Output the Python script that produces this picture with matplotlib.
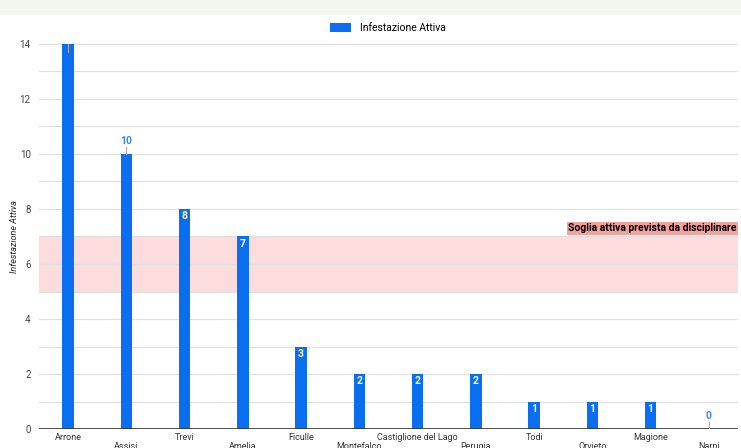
import matplotlib.pyplot as plt
from matplotlib.patches import Rectangle

plt.rcParams['font.family'] = ['Roboto', 'DejaVu Sans']

comuni = ['Arrone', 'Assisi', 'Trevi', 'Amelia', 'Ficulle', 'Montefalco',
          'Castiglione del Lago', 'Perugia', 'Todi', 'Orvieto', 'Magione', 'Narni']
infestazione = [14, 10, 8, 7, 3, 2, 2, 2, 1, 1, 1, 0]
soglia_min = 5
soglia_max = 7
y_ticks = [0, 2, 4, 6, 8, 10, 12, 14]

blue = '#0a6ef0'

fig = plt.figure(figsize=(7.41, 4.48), dpi=100)
# light green strip at the very top
fig.patches.append(Rectangle((0, 1 - 14 / 448), 1, 14 / 448, transform=fig.transFigure,
                             color='#f1f7ee', zorder=0))

ax = fig.add_axes([39 / 741, 19 / 448, 699 / 741, 385 / 448])
x = list(range(len(comuni)))
ax.bar(x, infestazione, width=0.2, color=blue, zorder=3, label='Infestazione Attiva')
ax.set_xlim(-0.5, len(comuni) - 0.5)
ax.set_ylim(0, 14)

# threshold band
ax.axhspan(soglia_min, soglia_max, color='#fcdcdc', zorder=1, lw=0)
ax.text(len(comuni) - 0.52, soglia_max + 0.3, 'Soglia attiva prevista da disciplinare',
        ha='right', va='center', fontsize=7.5, fontweight='bold', color='black', zorder=5,
        bbox=dict(boxstyle='square,pad=0.15', fc='#f4a09c', ec='none'))

# grid
for v in range(0, 15):
    ax.axhline(v, color='#e0e0e0', lw=0.9, zorder=2)
ax.axhline(0, color='#333333', lw=1.2, zorder=4)

# data labels
for i, v in enumerate(infestazione):
    if v >= 14:
        ax.plot([i, i], [v, v - 0.3], color='#aaaaaa', lw=0.8, zorder=4)
    elif v == 10 or v == 0:
        ax.plot([i, i], [v, v + 0.25], color='#aaaaaa', lw=0.8, zorder=4)
        ax.text(i, v + 0.3, str(v), ha='center', va='bottom', fontsize=7.5,
                fontweight='bold', color='#3b87f0', zorder=5)
    else:
        ax.text(i, v - 0.08, str(v), ha='center', va='top', fontsize=7.5,
                fontweight='bold', color='white', zorder=5)

ax.set_yticks(y_ticks)
ax.set_yticklabels([str(t) for t in y_ticks], fontsize=7, color='#444444')
ax.set_xticks(x)
ax.set_xticklabels([])
for i, name in enumerate(comuni):
    off = -0.3 if i % 2 == 0 else -0.65
    ax.text(i, off, name, ha='center', va='center', fontsize=6.5, color='#333333',
            clip_on=False)
ax.tick_params(axis='both', length=0)
ax.tick_params(axis='y', pad=6)
for s in ax.spines.values():
    s.set_visible(False)

ax.set_ylabel('Infestazione Attiva', fontsize=6.5, style='italic', color='#222222')
ax.yaxis.set_label_coords(-0.028, 0.5)

fig.legend(loc='center', bbox_to_anchor=(388 / 741, 1 - 28 / 448), frameon=False,
           fontsize=7.5, handlelength=2.0, handleheight=0.9)

fig.savefig('out.png', dpi=100)
